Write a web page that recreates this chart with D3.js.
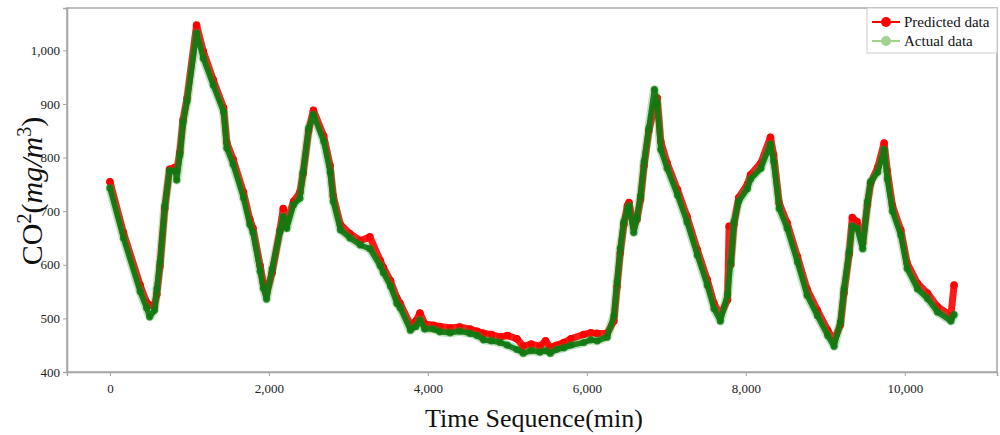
<!DOCTYPE html>
<html>
<head>
<meta charset="utf-8">
<script src="https://cdn.jsdelivr.net/npm/d3@7"></script>
<style>
  html, body { margin: 0; padding: 0; background: #fff; }
  svg { display: block; }
  text { font-family: "Liberation Serif", "Times New Roman", serif; }
</style>
</head>
<body>
<svg id="chart" width="1000" height="435"></svg>
<script>
// ---- data ----
const actualTime = [0,170,380,460,500,560,590,630,690,750,820,840,880,920,970,1090,1175,1300,1430,1470,1550,1680,1760,1800,1890,1930,1970,2040,2140,2180,2225,2310,2390,2430,2500,2560,2690,2770,2810,2900,3020,3150,3270,3400,3440,3530,3610,3650,3780,3850,3900,3960,4070,4150,4280,4400,4530,4620,4700,4800,4910,5000,5120,5200,5300,5410,5480,5540,5620,5710,5800,5960,6050,6130,6255,6340,6380,6420,6465,6510,6530,6590,6630,6675,6720,6780,6850,6885,6930,7010,7140,7260,7390,7515,7600,7680,7770,7810,7850,7910,8020,8060,8190,8310,8350,8420,8520,8650,8770,8900,9030,9110,9190,9235,9300,9340,9400,9470,9530,9570,9660,9740,9780,9845,9950,10030,10160,10285,10410,10580,10620];
const actualValues = [743,650,550,520,503,515,555,605,710,775,775,758,805,865,905,1032,985,935,885,818,787,725,675,660,588,556,536,592,662,690,668,712,724,773,855,880,830,773,718,665,650,637,630,598,585,560,528,520,478,485,497,480,480,475,473,476,472,468,460,458,455,450,442,435,440,437,440,435,442,445,450,455,460,458,465,505,568,630,680,703,710,660,688,728,792,855,927,900,815,780,730,680,618,562,518,495,545,605,680,718,742,760,780,825,792,705,668,605,543,505,468,448,493,555,625,672,668,630,718,755,773,815,760,700,655,593,555,537,512,495,507];

const predictedTime = [0,170,380,460,500,560,590,630,690,750,820,840,880,920,970,1090,1175,1300,1430,1470,1550,1680,1760,1800,1890,1930,1970,2040,2140,2180,2225,2310,2390,2430,2500,2560,2690,2770,2810,2900,3020,3150,3270,3400,3440,3530,3610,3650,3780,3850,3900,3960,4070,4150,4280,4400,4530,4620,4700,4800,4910,5000,5120,5200,5300,5410,5480,5540,5620,5710,5800,5960,6050,6130,6255,6340,6380,6420,6465,6510,6530,6590,6630,6675,6720,6780,6850,6885,6930,7010,7140,7260,7390,7515,7600,7680,7770,7790,7810,7850,7910,8020,8060,8190,8310,8350,8420,8520,8650,8770,8900,9030,9110,9190,9235,9300,9340,9400,9470,9530,9570,9660,9740,9780,9845,9950,10030,10160,10285,10410,10580,10620];
const predictedValues = [755,660,562,530,525,522,545,598,705,778,782,775,810,870,910,1047,998,945,893,828,797,735,685,668,598,566,545,585,665,705,680,718,735,770,850,888,840,785,728,675,658,645,652,608,595,570,538,528,488,495,510,490,487,485,482,484,480,476,472,470,465,468,462,448,452,448,458,446,450,455,462,470,473,472,472,495,560,622,675,710,716,670,685,722,785,850,895,911,830,790,740,690,628,572,528,505,535,672,600,675,725,750,768,790,838,805,715,678,615,555,515,478,458,488,548,620,688,680,640,712,752,782,827,775,710,665,603,565,547,522,505,562];

const xTicks = [0, 2000, 4000, 6000, 8000, 10000];
const yTicks = [400, 500, 600, 700, 800, 900, 1000];
const seriesNames = ["Predicted data", "Actual data"];

(function () {
// ---- layout ----
const svg = d3.select("#chart");
const mLeft = 67, mRight = 997, mTop = 8, mBottom = 372;

const x = d3.scaleLinear().domain([-540, 11160]).range([mLeft, mRight]);
const y = d3.scaleLinear().domain([400, 1079]).range([mBottom, mTop]);

const fmt = d3.format(",");

// frame
svg.append("rect")
  .attr("x", mLeft).attr("y", mTop)
  .attr("width", mRight - mLeft).attr("height", mBottom - mTop)
  .attr("fill", "none").attr("stroke", "#a6a6a6").attr("stroke-width", 1.5);

// axes
const xAxis = svg.append("g").attr("transform", `translate(0,${mBottom})`)
  .call(d3.axisBottom(x).tickValues(xTicks).tickFormat(fmt).tickSize(4).tickPadding(8));
const yAxis = svg.append("g").attr("transform", `translate(${mLeft},0)`)
  .call(d3.axisLeft(y).tickValues(yTicks).tickFormat(fmt).tickSize(4).tickPadding(3));
[xAxis, yAxis].forEach(g => {
  g.attr("font-family", "'Liberation Serif', serif").attr("font-size", 13);
  g.select(".domain").attr("stroke", "#a6a6a6").attr("stroke-width", 1.5);
  g.selectAll(".tick line").attr("stroke", "#a6a6a6");
  g.selectAll(".tick text").attr("fill", "#222").style("font-size", "13px")
    .style("font-family", "'Liberation Serif', serif");
});

// series
const predicted = predictedTime.map((t, i) => [t, predictedValues[i]]);
const actual = actualTime.map((t, i) => [t, actualValues[i]]);
const line = d3.line().x(d => x(d[0])).y(d => y(d[1]));

const plot = svg.append("g");
plot.append("path").datum(predicted)
  .attr("d", line).attr("fill", "none").attr("stroke", "#ff1a1a")
  .attr("stroke-width", 7).attr("stroke-linejoin", "round").attr("stroke-linecap", "round");
plot.selectAll("circle.p").data(predicted).enter().append("circle")
  .attr("class", "p").attr("cx", d => x(d[0])).attr("cy", d => y(d[1]))
  .attr("r", 3.8).attr("fill", "#ff0000");

plot.append("path").datum(actual)
  .attr("d", line).attr("fill", "none").attr("stroke", "#2e9a2e").attr("stroke-opacity", 0.3)
  .attr("stroke-width", 9).attr("stroke-linejoin", "round").attr("stroke-linecap", "round");
plot.append("path").datum(actual)
  .attr("d", line).attr("fill", "none").attr("stroke", "#137a13").attr("stroke-opacity", 0.95)
  .attr("stroke-width", 5.5).attr("stroke-linejoin", "round").attr("stroke-linecap", "round");
plot.selectAll("circle.a").data(actual).enter().append("circle")
  .attr("class", "a").attr("cx", d => x(d[0])).attr("cy", d => y(d[1]))
  .attr("r", 3.6).attr("fill", "#127812").attr("fill-opacity", 0.8);

// legend
const lg = svg.append("g");
lg.append("rect").attr("x", 867).attr("y", 8).attr("width", 130).attr("height", 45)
  .attr("fill", "#fff").attr("stroke", "#cccccc").attr("stroke-width", 1);
const legendColors = ["#ff0000", "#a3d18f"];
seriesNames.forEach((name, i) => {
  const cy = 22 + i * 19;
  lg.append("line").attr("x1", 872).attr("x2", 900).attr("y1", cy).attr("y2", cy)
    .attr("stroke", legendColors[i]).attr("stroke-width", 2);
  lg.append("circle").attr("cx", 886).attr("cy", cy).attr("r", 5).attr("fill", legendColors[i]);
  lg.append("text").attr("x", 904).attr("y", cy + 5).text(name)
    .style("font-size", "15px").attr("fill", "#111");
});

// axis titles
svg.append("text").attr("x", 534).attr("y", 427).attr("text-anchor", "middle")
  .style("font-size", "26px").attr("fill", "#111").text("Time Sequence(min)");

const yl = svg.append("text").attr("transform", "translate(42,191) rotate(-90)")
  .attr("text-anchor", "middle").style("font-size", "30px").attr("fill", "#111");
yl.append("tspan").text("CO");
yl.append("tspan").attr("baseline-shift", "super").style("font-size", "20px").text("2");
yl.append("tspan").text("(");
yl.append("tspan").style("font-style", "italic").text("mg/m");
yl.append("tspan").attr("baseline-shift", "super").style("font-size", "20px").text("3");
yl.append("tspan").text(")");
})();
</script>
</body>
</html>
